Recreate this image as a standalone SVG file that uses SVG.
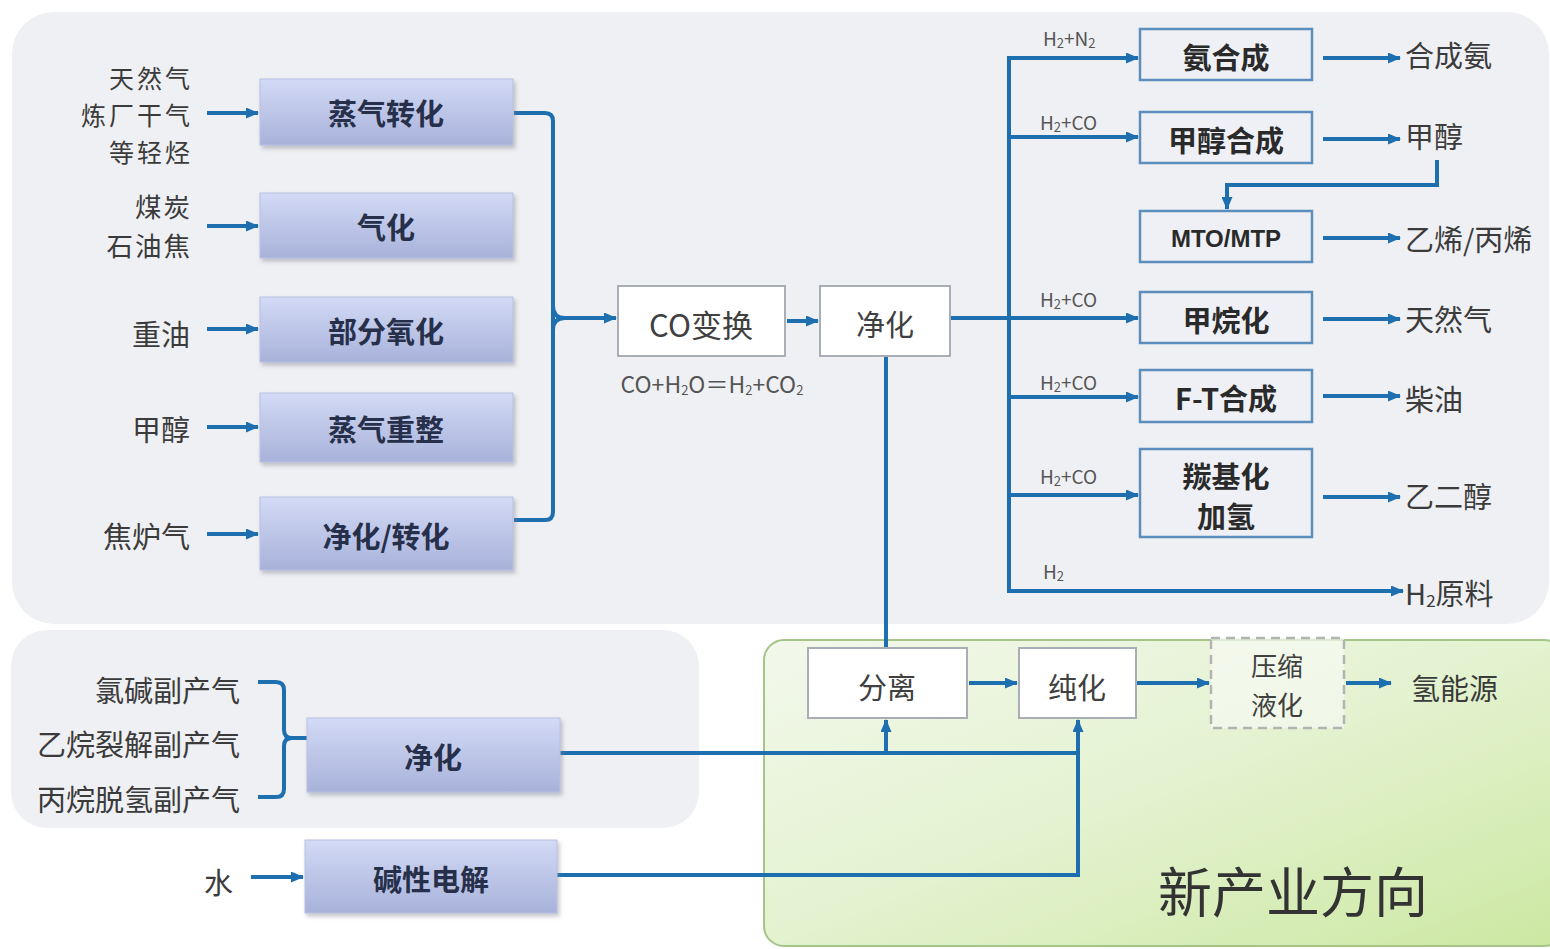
<svg xmlns="http://www.w3.org/2000/svg" width="1550" height="949" viewBox="0 0 1550 949">
<defs>
<linearGradient id="gBox" x1="0" y1="0" x2="0" y2="1">
<stop offset="0" stop-color="#d3daf6"/>
<stop offset="1" stop-color="#a8b2da"/>
</linearGradient>
<linearGradient id="gGreen" x1="0" y1="0" x2="1" y2="1">
<stop offset="0" stop-color="#f3f8ec"/>
<stop offset="0.5" stop-color="#e3f2cf"/>
<stop offset="1" stop-color="#cce8a2"/>
</linearGradient>
<filter id="shadow" x="-10%" y="-10%" width="125%" height="140%">
<feDropShadow dx="2" dy="3" stdDeviation="2" flood-color="#7a7f8c" flood-opacity="0.45"/>
</filter>
<marker id="arr" markerUnits="userSpaceOnUse" markerWidth="13" markerHeight="11" refX="12" refY="5.5" orient="auto">
<path d="M0,0 L13,5.5 L0,11 z" fill="#1e6fb0"/>
</marker>
</defs>
<style>
.panel{fill:#eff0f4;}
.pbox{fill:url(#gBox);stroke:#b9c1e2;stroke-width:1;filter:url(#shadow);}
.wbox{fill:#ffffff;stroke:#a8adb6;stroke-width:2;}
.rbox{fill:#eef0f5;stroke:#5b8dbd;stroke-width:2.5;}
.dbox{fill:#f7faf2;fill-opacity:0.7;stroke:#b3b3b3;stroke-width:2.5;stroke-dasharray:9 6;}
.ln{fill:none;stroke:#1e6fb0;stroke-width:4;}
.la{fill:none;stroke:#1e6fb0;stroke-width:4;marker-end:url(#arr);}
text{font-family:"Noto Sans CJK SC","Noto Sans",sans-serif;dominant-baseline:central;}
.lbl{font-size:29px;fill:#3b3b3b;text-anchor:end;}
.stk{font-size:25px;letter-spacing:3px;fill:#3b3b3b;text-anchor:end;}
.stk2{font-size:26.5px;letter-spacing:2px;fill:#3b3b3b;text-anchor:end;}
.out{font-size:29px;fill:#3b3b3b;}
.bt{font-size:29px;font-weight:bold;fill:#27304a;text-anchor:middle;}
.rt{font-size:29px;font-weight:bold;fill:#2a2a2a;text-anchor:middle;}
.wt{font-size:29px;fill:#404040;text-anchor:middle;}
.sm{font-size:19px;fill:#555;}
.sub{font-size:13px;}
</style>

<g id="panels">
<rect class="panel" x="12" y="12" width="1537" height="612" rx="42"/>
<rect class="panel" x="11" y="630" width="688" height="198" rx="36"/>
<rect x="764" y="640" width="800" height="306" rx="20" fill="url(#gGreen)" stroke="#a5c487" stroke-width="2"/>
</g>

<g id="connectors">
<line class="la" x1="207" y1="113" x2="258" y2="113"/>
<line class="la" x1="207" y1="226" x2="258" y2="226"/>
<line class="la" x1="207" y1="329" x2="258" y2="329"/>
<line class="la" x1="207" y1="427" x2="258" y2="427"/>
<line class="la" x1="207" y1="534" x2="258" y2="534"/>
<path class="ln" d="M514,113 H545 Q553,113 553,121 V512 Q553,520 545,520 H514"/>
<path class="ln" d="M553,306 Q553,318 565,318"/>
<path class="ln" d="M553,330 Q553,318 565,318"/>
<line class="la" x1="563" y1="318" x2="616" y2="318"/>
<line class="la" x1="787" y1="321" x2="818" y2="321"/>
<line class="ln" x1="951" y1="318" x2="1009" y2="318"/>
<line class="ln" x1="1009" y1="56" x2="1009" y2="592"/>
<line class="la" x1="1007" y1="58" x2="1138" y2="58"/>
<line class="la" x1="1009" y1="137" x2="1138" y2="137"/>
<line class="la" x1="1009" y1="318" x2="1138" y2="318"/>
<line class="la" x1="1009" y1="397" x2="1138" y2="397"/>
<line class="la" x1="1009" y1="495" x2="1138" y2="495"/>
<line class="la" x1="1007" y1="591" x2="1403" y2="591"/>
<line class="la" x1="1323" y1="58" x2="1400" y2="58"/>
<line class="la" x1="1323" y1="139" x2="1400" y2="139"/>
<line class="la" x1="1323" y1="238" x2="1400" y2="238"/>
<line class="la" x1="1323" y1="319" x2="1400" y2="319"/>
<line class="la" x1="1323" y1="396" x2="1400" y2="396"/>
<line class="la" x1="1323" y1="497" x2="1400" y2="497"/>
<path class="la" d="M1437,160 V185 H1227 V209"/>
<line class="ln" x1="886" y1="357" x2="886" y2="647"/>
<line class="la" x1="969" y1="683" x2="1017" y2="683"/>
<line class="la" x1="1137" y1="683" x2="1209" y2="683"/>
<line class="la" x1="1346" y1="683" x2="1391" y2="683"/>
<path class="ln" d="M258,682 H276 Q284,682 284,690 V730 Q284,738 292,738 Q284,738 284,746 V789 Q284,797 276,797 H258"/>
<line class="ln" x1="290" y1="738" x2="308" y2="738"/>
<line class="la" x1="251" y1="877" x2="303" y2="877"/>
<line class="ln" x1="560" y1="753" x2="1078" y2="753"/>
<line class="la" x1="886" y1="753" x2="886" y2="720"/>
<path class="ln" d="M557,875 H1078 V753"/>
<line class="la" x1="1078" y1="755" x2="1078" y2="720"/>
</g>

<g id="labels">
<text class="stk" x="193" y="77">天然气</text>
<text class="stk" x="193" y="114">炼厂干气</text>
<text class="stk" x="193" y="151">等轻烃</text>
<text class="stk2" x="192" y="205">煤炭</text>
<text class="stk2" x="192" y="244">石油焦</text>
<text class="lbl" x="190" y="333">重油</text>
<text class="lbl" x="190" y="428">甲醇</text>
<text class="lbl" x="190" y="535">焦炉气</text>
<text class="lbl" x="240" y="689">氯碱副产气</text>
<text class="lbl" x="240" y="743">乙烷裂解副产气</text>
<text class="lbl" x="240" y="798">丙烷脱氢副产气</text>
<text class="lbl" x="233" y="881">水</text>
<text x="712" y="383" style="font-size:23px;fill:#555;text-anchor:middle;">CO+H<tspan class="sub" dy="6">2</tspan><tspan dy="-6">O＝H</tspan><tspan class="sub" dy="6">2</tspan><tspan dy="-6">+CO</tspan><tspan class="sub" dy="6">2</tspan></text>
<text class="sm" x="1043" y="37">H<tspan class="sub" dy="5">2</tspan><tspan dy="-5">+N</tspan><tspan class="sub" dy="5">2</tspan></text>
<text class="sm" x="1040" y="121">H<tspan class="sub" dy="5">2</tspan><tspan dy="-5">+CO</tspan></text>
<text class="sm" x="1040" y="298">H<tspan class="sub" dy="5">2</tspan><tspan dy="-5">+CO</tspan></text>
<text class="sm" x="1040" y="381">H<tspan class="sub" dy="5">2</tspan><tspan dy="-5">+CO</tspan></text>
<text class="sm" x="1040" y="475">H<tspan class="sub" dy="5">2</tspan><tspan dy="-5">+CO</tspan></text>
<text class="sm" x="1043" y="570">H<tspan class="sub" dy="5">2</tspan></text>
<text class="out" x="1405" y="54">合成氨</text>
<text class="out" x="1405" y="135">甲醇</text>
<text class="out" x="1405" y="238">乙烯/丙烯</text>
<text class="out" x="1405" y="318">天然气</text>
<text class="out" x="1405" y="398">柴油</text>
<text class="out" x="1405" y="495">乙二醇</text>
<text class="out" x="1405" y="592">H<tspan style="font-size:17px" dy="7">2</tspan><tspan dy="-7">原料</tspan></text>
<text class="out" x="1411" y="687">氢能源</text>
<text x="1293" y="889" style="font-size:54px;fill:#333;text-anchor:middle;">新产业方向</text>
</g>

<g id="n-zhengqizhuanhua"><rect class="pbox" x="260" y="79" width="253" height="66"/><text class="bt" x="386" y="112">蒸气转化</text></g>
<g id="n-qihua"><rect class="pbox" x="260" y="193" width="253" height="65"/><text class="bt" x="386" y="226">气化</text></g>
<g id="n-bufenyanghua"><rect class="pbox" x="260" y="297" width="253" height="65"/><text class="bt" x="386" y="330">部分氧化</text></g>
<g id="n-zhengqichongzheng"><rect class="pbox" x="260" y="393" width="253" height="69"/><text class="bt" x="386" y="428">蒸气重整</text></g>
<g id="n-jinghuazhuanhua"><rect class="pbox" x="260" y="497" width="253" height="73"/><text class="bt" x="386" y="535">净化/转化</text></g>
<g id="n-cobianhuan"><rect class="wbox" x="618" y="286" width="167" height="70"/><text class="wt" x="701" y="323" style="font-size:31px">CO变换</text></g>
<g id="n-jinghua"><rect class="wbox" x="820" y="286" width="130" height="70"/><text class="wt" x="885" y="323">净化</text></g>
<g id="n-anhecheng"><rect class="rbox" x="1140" y="29" width="172" height="51"/><text class="rt" x="1226" y="56">氨合成</text></g>
<g id="n-jiachunhecheng"><rect class="rbox" x="1140" y="112" width="172" height="51"/><text class="rt" x="1226" y="139">甲醇合成</text></g>
<g id="n-mto"><rect class="rbox" x="1140" y="211" width="172" height="51"/><text class="rt" x="1226" y="238" style="font-size:24px;font-family:'Liberation Sans',sans-serif;">MTO/MTP</text></g>
<g id="n-jiawanhua"><rect class="rbox" x="1140" y="292" width="172" height="51"/><text class="rt" x="1226" y="319">甲烷化</text></g>
<g id="n-ft"><rect class="rbox" x="1140" y="370" width="172" height="52"/><text class="rt" x="1226" y="397">F-T合成</text></g>
<g id="n-tangjihua"><rect class="rbox" x="1140" y="449" width="172" height="88"/><text class="rt" x="1226" y="475">羰基化</text><text class="rt" x="1226" y="515">加氢</text></g>
<g id="n-jinghua2"><rect class="pbox" x="307" y="718" width="253" height="74"/><text class="bt" x="433" y="756">净化</text></g>
<g id="n-jianxingdianjie"><rect class="pbox" x="305" y="840" width="252" height="73"/><text class="bt" x="431" y="878">碱性电解</text></g>
<g id="n-fenli"><rect class="wbox" x="808" y="648" width="159" height="70"/><text class="wt" x="887" y="686">分离</text></g>
<g id="n-chunhua"><rect class="wbox" x="1019" y="648" width="117" height="70"/><text class="wt" x="1077" y="686">纯化</text></g>
<g id="n-yasuo"><rect class="dbox" x="1211" y="638" width="133" height="90"/><text class="wt" x="1277" y="664" style="font-size:26px">压缩</text><text class="wt" x="1277" y="703" style="font-size:26px">液化</text></g>
</svg>
